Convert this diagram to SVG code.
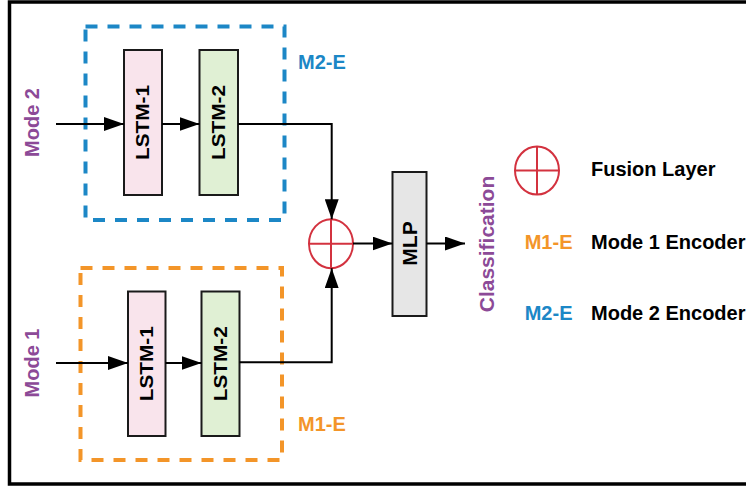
<svg xmlns="http://www.w3.org/2000/svg" width="746" height="487" viewBox="0 0 746 487">
<style>
text{font-family:"Liberation Sans",Arial,sans-serif;font-weight:bold}
.lstm{font-size:17.5px;fill:#000}
.box{stroke:#1a1a1a;stroke-width:2}
.lbl{font-size:20px}
.purple{fill:#8C4A97}
.blue{fill:#1C87C6}
.orange{fill:#F39529}
.conn{fill:none;stroke:#000;stroke-width:2}
.fus{fill:none;stroke:#D3323F;stroke-width:2}
</style>
<defs>
<marker id="ah" viewBox="0 0 20 14" refX="20" refY="7" markerWidth="20" markerHeight="14" markerUnits="userSpaceOnUse" orient="auto">
<path d="M0,0 L20,7 L0,14 Z" fill="#000"/>
</marker>
</defs>
<rect x="0" y="0" width="746" height="487" fill="#fff"/>
<rect x="9.5" y="2" width="760" height="482" fill="none" stroke="#000" stroke-width="3.5"/>

<g id="m2e">
<rect x="85.5" y="26.5" width="199" height="193.5" fill="none" stroke="#1C87C6" stroke-width="4" stroke-dasharray="12 10"/>
<text class="lbl blue" x="298" y="69">M2-E</text>
</g>
<g id="m1e">
<rect x="80.5" y="268" width="201.5" height="192" fill="none" stroke="#F39529" stroke-width="4" stroke-dasharray="12 10"/>
<text class="lbl orange" x="298" y="431">M1-E</text>
</g>

<g id="mode2"><text class="lbl purple" transform="translate(39.3,122.5) rotate(-90)" text-anchor="middle" font-size="20.5">Mode 2</text></g>
<g id="mode1"><text class="lbl purple" transform="translate(39.3,363) rotate(-90)" text-anchor="middle" font-size="20.5">Mode 1</text></g>

<g id="lstm1-top">
<rect class="box" x="124" y="50" width="38" height="145" fill="#F9E4EC"/>
<text class="lstm" transform="translate(149,122.5) rotate(-90)" text-anchor="middle" textLength="75" lengthAdjust="spacingAndGlyphs">LSTM-1</text>
</g>
<g id="lstm2-top">
<rect class="box" x="199.5" y="50" width="38.5" height="145" fill="#E0F0D4"/>
<text class="lstm" transform="translate(225,122.5) rotate(-90)" text-anchor="middle" textLength="75" lengthAdjust="spacingAndGlyphs">LSTM-2</text>
</g>
<g id="lstm1-bot">
<rect class="box" x="128" y="291.5" width="37.5" height="144.5" fill="#F9E4EC"/>
<text class="lstm" transform="translate(153,363.7) rotate(-90)" text-anchor="middle" textLength="75" lengthAdjust="spacingAndGlyphs">LSTM-1</text>
</g>
<g id="lstm2-bot">
<rect class="box" x="201.5" y="291.5" width="38" height="144.5" fill="#E0F0D4"/>
<text class="lstm" transform="translate(226.7,363.7) rotate(-90)" text-anchor="middle" textLength="75" lengthAdjust="spacingAndGlyphs">LSTM-2</text>
</g>

<g id="fusion">
<ellipse class="fus" cx="331" cy="243.7" rx="22" ry="24.5"/>
<line class="fus" x1="309" y1="243.7" x2="353" y2="243.7"/>
<line class="fus" x1="331" y1="219.2" x2="331" y2="268.2"/>
</g>

<g id="mlp">
<rect class="box" x="392.5" y="172" width="34" height="144" fill="#E6E6E6"/>
<text transform="translate(416.7,243.5) rotate(-90)" text-anchor="middle" font-size="21">MLP</text>
</g>

<g id="classification"><text class="purple" transform="translate(494,244) rotate(-90)" text-anchor="middle" font-size="21">Classification</text></g>

<g id="legend">
<ellipse class="fus" cx="537" cy="170.5" rx="22" ry="24"/>
<line class="fus" x1="515" y1="170.5" x2="559" y2="170.5"/>
<line class="fus" x1="537" y1="146.5" x2="537" y2="194.5"/>
<text class="lbl" x="591" y="176">Fusion Layer</text>
<text class="lbl orange" x="524.7" y="249">M1-E</text>
<text class="lbl" x="591" y="249">Mode 1 Encoder</text>
<text class="lbl blue" x="524.7" y="320">M2-E</text>
<text class="lbl" x="591" y="320">Mode 2 Encoder</text>
</g>

<g id="connectors">
<path class="conn" d="M56,124 H124" marker-end="url(#ah)"/>
<path class="conn" d="M162,124 H199.5" marker-end="url(#ah)"/>
<path class="conn" d="M238,124 H331.7 V219.2" marker-end="url(#ah)"/>
<path class="conn" d="M56,363 H128" marker-end="url(#ah)"/>
<path class="conn" d="M165.5,363 H201.5" marker-end="url(#ah)"/>
<path class="conn" d="M239.5,362.3 H331.7 V268.2" marker-end="url(#ah)"/>
<path class="conn" d="M353,243.5 H392.5" marker-end="url(#ah)"/>
<path class="conn" d="M426.5,243.5 H465" marker-end="url(#ah)"/>
</g>
</svg>
